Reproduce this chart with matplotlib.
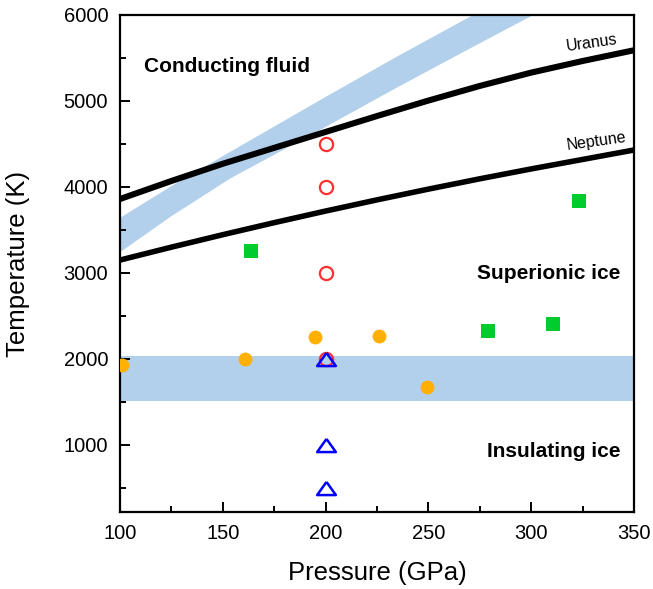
import matplotlib
matplotlib.use("Agg")
import matplotlib.pyplot as plt
from matplotlib.ticker import MultipleLocator

plt.rcParams['font.family'] = ['Liberation Sans', 'DejaVu Sans']

# ---- data ----
uranus_P = [100, 125, 150, 175, 200, 225, 250, 275, 300, 325, 350]
uranus_T = [3860, 4070, 4270, 4455, 4640, 4825, 5005, 5175, 5330, 5465, 5590]
neptune_P = [100, 125, 150, 175, 200, 225, 250, 275, 300, 325, 350]
neptune_T = [3150, 3300, 3445, 3585, 3720, 3850, 3975, 4095, 4210, 4320, 4430]

band_up_P = [100, 125, 153.5, 200, 235, 270, 290]
band_up_T = [3640, 4010, 4407, 5047, 5520, 5977, 6240]
band_lo_P = [100, 125, 153.5, 200, 235, 270, 301, 320]
band_lo_T = [3240, 3660, 4097, 4698, 5160, 5608, 6000, 6240]

hband_T = [1510, 2040]

red_P = [200, 200, 200, 200]
red_T = [4500, 4000, 3000, 2000]
tri_P = [200, 200, 200]
tri_T = [2000, 1000, 500]
green_P = [163.7, 278.8, 310.4, 323.4]
green_T = [3256, 2326, 2403, 3834]
orange_P = [100.8, 160.8, 194.7, 226.1, 249.2]
orange_T = [1930, 1996, 2252, 2264, 1678]

W, H = 653, 589
fig = plt.figure(figsize=(W/100, H/100), dpi=100)
ax = fig.add_axes([120/W, 1-512/H, (634-120)/W, (512-15)/H])

band_color = '#b2d0eb'
ax.axhspan(hband_T[0], hband_T[1], color=band_color, lw=0, zorder=1)
ax.fill(band_up_P + band_lo_P[::-1], band_up_T + band_lo_T[::-1],
        color=band_color, lw=0, zorder=1)

ax.plot(uranus_P, uranus_T, color='black', lw=4.4, zorder=3, solid_capstyle='butt')
ax.plot(neptune_P, neptune_T, color='black', lw=4.0, zorder=3, solid_capstyle='butt')

ax.plot(orange_P, orange_T, 'o', color='#ffb000', ms=10, mew=0, zorder=4)
ax.plot(green_P, green_T, 's', color='#00cc2e', ms=10, mew=0, zorder=4)
ax.plot(red_P, red_T, 'o', mfc='none', mec='#ff3030', ms=9.5, mew=1.6, zorder=5)
tri = [(0, 0.7), (-1, -0.7), (1, -0.7), (0, 0.7)]
ax.plot(tri_P, tri_T, marker=tri, ls='none', mfc='none', mec='#0000ff', ms=13.5, mew=1.8, zorder=5)

ax.set_xlim(100, 350)
ax.set_ylim(220, 6000)
ax.xaxis.set_major_locator(MultipleLocator(50))
ax.xaxis.set_minor_locator(MultipleLocator(25))
ax.yaxis.set_minor_locator(MultipleLocator(500))
ax.set_yticks([1000, 2000, 3000, 4000, 5000, 6000])
ax.tick_params(which='major', direction='in', length=7, width=1.4, labelsize=14.5, pad=8.5)
ax.tick_params(which='minor', direction='in', length=4, width=1.4)
for s in ax.spines.values():
    s.set_linewidth(1.6)

ax.set_xlabel('Pressure (GPa)', fontsize=18.5)
ax.set_ylabel('Temperature (K)', fontsize=18.5)
ax.xaxis.set_label_coords(0.5, -0.098)
ax.yaxis.set_label_coords(-0.176, 0.5)

ax.text(152.2, 5399, 'Conducting fluid', fontsize=15, fontweight='bold', ha='center', va='center', zorder=6)
ax.text(308.7, 2997, 'Superionic ice', fontsize=15, fontweight='bold', ha='center', va='center', zorder=6)
ax.text(310.8, 922, 'Insulating ice', fontsize=15, fontweight='bold', ha='center', va='center', zorder=6)
ax.text(329.5, 5671, 'Uranus', fontsize=11.5, rotation=8, ha='center', va='center', zorder=6)
ax.text(331.8, 4527, 'Neptune', fontsize=11.5, rotation=8, ha='center', va='center', zorder=6)

fig.savefig('out.png', dpi=100)
